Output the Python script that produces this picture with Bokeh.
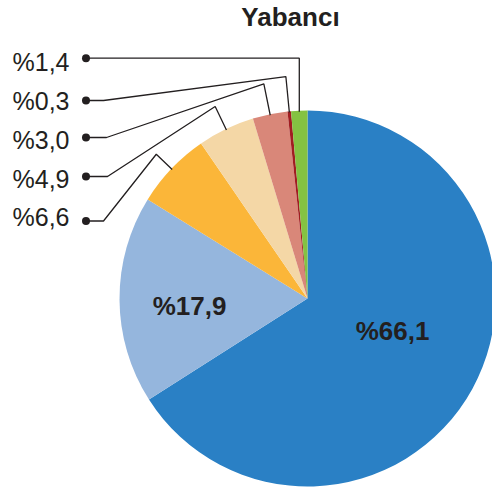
import math
from bokeh.plotting import figure
from bokeh.models import Range1d, ColumnDataSource
from bokeh.core.properties import value
from bokeh.embed import file_html
from bokeh.resources import INLINE

# ---- data ----
title = "Yabancı"
shares = [66.1, 17.9, 6.6, 4.9, 3.0, 0.3, 1.4]
share_labels = ["%66,1", "%17,9", "%6,6", "%4,9", "%3,0", "%0,3", "%1,4"]
colors = ["#2a80c5", "#95b6dd", "#fbb639", "#f4d7a6", "#d98779", "#a11d21", "#84c242"]

# ---- layout (image pixel coordinates; y measured downward) ----
W = H = 492
CX, CY, R = 307, 298, 188
INK = "#231f20"
FONT = "Liberation Sans"

def py(Y):
    return H - Y

p = figure(width=W, height=H, output_backend="svg", toolbar_location=None,
           x_range=Range1d(0, W), y_range=Range1d(0, H),
           min_border=0, outline_line_color=None)
p.axis.visible = False
p.grid.visible = False
p.background_fill_color = "white"
p.border_fill_color = "white"

total = sum(shares)
k = 2 * math.pi / total
starts, ends, mids = [], [], []
cum = 0.0
for v in shares:
    s = math.pi / 2 - cum * k
    e = s - v * k
    starts.append(s)
    ends.append(e)
    mids.append((s + e) / 2)
    cum += v

src = ColumnDataSource(dict(start=starts, end=ends, color=colors))
p.wedge(x=CX, y=py(CY), radius=R, start_angle="start", end_angle="end",
        direction="clock", fill_color="color", line_color=None, source=src)

# inner labels (slices 0 and 1)
inner_pos = [(392, 330), (189, 305)]
p.text(x=[xy[0] for xy in inner_pos], y=[py(xy[1]) for xy in inner_pos],
       text=share_labels[:2], text_font=value(FONT), text_font_style="bold",
       text_font_size="26px", text_color=INK, text_align="center",
       text_baseline="middle")

# outside labels (from top: green, dark red, salmon, tan, orange)
outer_idx = [6, 5, 4, 3, 2]
text_y = [61, 100.5, 139, 178, 216]
dot_y = [57.7, 100, 137, 176, 220.5]
elbow_x = [105, 103, 106, 107, 103]
bend_r = [240.3, 223, 219, 213, 209]
end_r = 187
dot_x = 85.5
text_right = 69

xs, ys = [], []
for i, idx in enumerate(outer_idx):
    a = mids[idx]
    ex, ey = CX + end_r * math.cos(a), CY - end_r * math.sin(a)
    bx, by = CX + bend_r[i] * math.cos(a), CY - bend_r[i] * math.sin(a)
    if i == 0:
        bx, by = ex, dot_y[i]
    xs.append([dot_x, elbow_x[i], bx, ex])
    ys.append([py(dot_y[i]), py(dot_y[i]), py(by), py(ey)])

p.multi_line(xs=xs, ys=ys, line_color=INK, line_width=1.3)
p.scatter(x=[dot_x] * len(outer_idx), y=[py(v) for v in dot_y], size=8,
          fill_color=INK, line_color=None)
p.text(x=[text_right] * len(outer_idx), y=[py(v) for v in text_y],
       text=[share_labels[i] for i in outer_idx], text_font=value(FONT),
       text_font_size="25px", text_color=INK, text_align="right",
       text_baseline="middle")

# title
p.text(x=[290], y=[py(16)], text=[title], text_font=value(FONT),
       text_font_style="bold", text_font_size="26px", text_color=INK,
       text_align="center", text_baseline="middle")

open("out.html", "w").write(file_html(p, INLINE))
